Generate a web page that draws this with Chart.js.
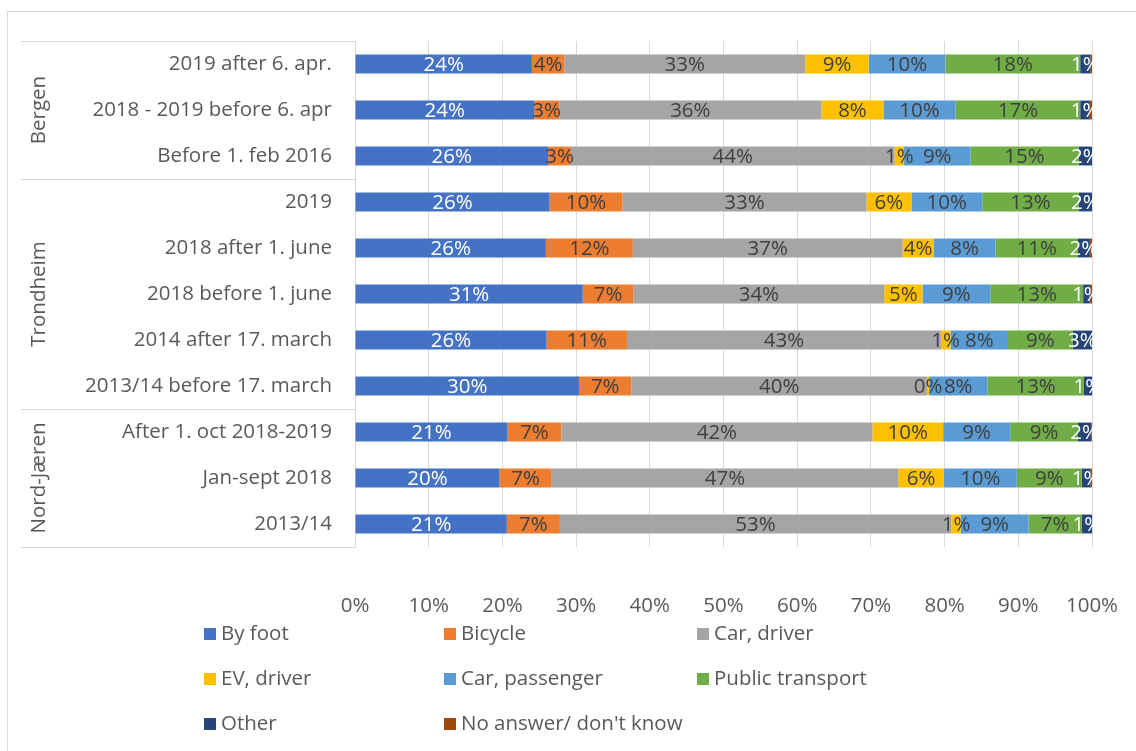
<!DOCTYPE html>
<html>
<head>
<meta charset="utf-8">
<script src="https://cdn.jsdelivr.net/npm/chart.js@4/dist/chart.umd.min.js"></script>
<style>
    body { margin: 0; background: #fff; font-family: "Open Sans", sans-serif; }
    #wrap { position: relative; width: 1136px; height: 751px; overflow: hidden; }
    #frame { position: absolute; left: 7px; top: 11px; width: 1140px; height: 760px; border: 1px solid #d9d9d9; }
    canvas { position: absolute; left: 0; top: 0; }
    .leg { position: absolute; font-size: 20.5px; color: #595959; height: 26px; line-height: 26px; white-space: nowrap; }
    .leg span { display: inline-block; width: 12px; height: 12px; margin-right: 5px; vertical-align: 0px; }
</style>
</head>
<body>
<div id="wrap">
    <div id="frame"></div>
    <canvas id="chart" width="1136" height="751"></canvas>
    <div id="legend"></div>
</div>
<script>
// categories, top to bottom
var categories = [
    '2019 after 6. apr.', '2018 - 2019 before 6. apr', 'Before 1. feb 2016',
    '2019', '2018 after 1. june', '2018 before 1. june', '2014 after 17. march', '2013/14 before 17. march',
    'After 1. oct 2018-2019', 'Jan-sept 2018', '2013/14'
];
var groups = ['Bergen', 'Trondheim', 'Nord-Jæren'];
var groupSizes = [3, 5, 3];

// shares in percent, same order as categories
var byFoot      = [24.0, 24.3, 26.2, 26.4, 25.9, 30.9, 26.0, 30.4, 20.7, 19.6, 20.6];
var bicycle     = [ 4.4,  3.4,  3.1,  9.9, 11.8,  6.9, 10.9,  7.1,  7.3,  7.1,  7.2];
var carDriver   = [32.7, 35.6, 43.9, 33.1, 36.6, 34.0, 42.6, 40.1, 42.2, 47.0, 53.1];
var evDriver    = [ 8.6,  8.4,  1.3,  6.1,  4.2,  5.2,  1.3,  0.3,  9.6,  6.2,  1.3];
var carPassenger= [10.4,  9.8,  9.0,  9.6,  8.4,  9.2,  7.8,  7.9,  9.1,  9.9,  9.2];
var publicTransport = [18.3, 16.9, 14.7, 13.1, 11.2, 12.6, 8.8, 13.1, 9.2, 8.8, 7.2];
var other       = [ 1.4,  1.3,  1.8,  1.8,  1.6,  0.9,  2.6,  1.1,  1.8,  1.2,  1.4];
var noAnswer    = [ 0.2,  0.3,  0.0,  0.0,  0.3,  0.3,  0.0,  0.0,  0.1,  0.2,  0.0];

var xTicks = ['0%', '10%', '20%', '30%', '40%', '50%', '60%', '70%', '80%', '90%', '100%'];

var series = [
    { label: 'By foot', data: byFoot, color: '#4472C4', text: '#ffffff' },
    { label: 'Bicycle', data: bicycle, color: '#ED7D31', text: '#404040' },
    { label: 'Car, driver', data: carDriver, color: '#A5A5A5', text: '#404040' },
    { label: 'EV, driver', data: evDriver, color: '#FFC000', text: '#404040' },
    { label: 'Car, passenger', data: carPassenger, color: '#5B9BD5', text: '#404040' },
    { label: 'Public transport', data: publicTransport, color: '#70AD47', text: '#404040' },
    { label: 'Other', data: other, color: '#264478', text: '#ffffff' },
    { label: "No answer/ don't know", data: noAnswer, color: '#9E480E', text: null }
];

var FAMILY = '"Open Sans", sans-serif';
var SIZE = 20.5;
var FONT = SIZE + 'px ' + FAMILY;

// labels inside the bar segments
var segmentLabels = {
    id: 'segmentLabels',
    afterDatasetsDraw: function(chart) {
        var ctx = chart.ctx;
        ctx.save();
        ctx.font = FONT;
        ctx.textAlign = 'center';
        ctx.textBaseline = 'middle';
        chart.data.datasets.forEach(function(ds, i) {
            if (!ds.textColor) return;
            chart.getDatasetMeta(i).data.forEach(function(bar, j) {
                var p = bar.getProps(['x', 'base', 'y'], true);
                ctx.fillStyle = ds.textColor;
                ctx.fillText(Math.round(ds.data[j]) + '%', (p.x + p.base) / 2, p.y + 1);
            });
        });
        ctx.restore();
    }
};

// group labels and separators of the two-level category axis
var groupAxis = {
    id: 'groupAxis',
    afterDraw: function(chart) {
        var ctx = chart.ctx;
        var y = chart.scales.y;
        var area = chart.chartArea;
        ctx.save();
        ctx.strokeStyle = '#d9d9d9';
        ctx.lineWidth = 1;
        var start = 0;
        var lines = [area.top];
        groups.forEach(function(g, k) {
            var end = start + groupSizes[k] - 1;
            var mid = (y.getPixelForValue(start) + y.getPixelForValue(end)) / 2;
            ctx.save();
            ctx.translate(39, mid);
            ctx.rotate(-Math.PI / 2);
            ctx.font = FONT;
            ctx.fillStyle = '#595959';
            ctx.textAlign = 'center';
            ctx.textBaseline = 'middle';
            ctx.fillText(g, 0, 0);
            ctx.restore();
            if (k < groups.length - 1) {
                lines.push((y.getPixelForValue(end) + y.getPixelForValue(end + 1)) / 2);
            }
            start = end + 1;
        });
        lines.push(area.bottom);
        lines.forEach(function(ly) {
            ly = Math.round(ly) + 0.5;
            ctx.beginPath();
            ctx.moveTo(21, ly);
            ctx.lineTo(area.left, ly);
            ctx.stroke();
        });
        ctx.restore();
    }
};

var ctx = document.getElementById('chart').getContext('2d');
var chart = new Chart(ctx, {
    type: 'bar',
    data: {
        labels: categories,
        datasets: series.map(function(s) {
            return {
                label: s.label,
                data: s.data,
                backgroundColor: s.color,
                textColor: s.text,
                borderWidth: 0,
                barPercentage: 0.41,
                categoryPercentage: 1
            };
        })
    },
    options: {
        indexAxis: 'y',
        responsive: false,
        animation: false,
        layout: { padding: { left: 0, top: 41, right: 44, bottom: 124 } },
        plugins: { legend: { display: false }, tooltip: { enabled: false } },
        scales: {
            x: {
                stacked: true,
                min: 0,
                max: 100,
                afterFit: function(scale) {
                    scale.height = 80;
                    scale.paddingLeft = 0;
                    scale.paddingRight = 0;
                },
                grid: { color: '#d9d9d9', drawTicks: false },
                border: { display: false },
                ticks: {
                    stepSize: 10,
                    padding: 47,
                    maxRotation: 0,
                    color: '#595959',
                    font: { family: FAMILY, size: SIZE },
                    callback: function(v) { return xTicks[Math.round(v / 10)]; }
                }
            },
            y: {
                stacked: true,
                afterFit: function(scale) { scale.width = 355; },
                grid: { display: false },
                border: { display: true, color: '#d9d9d9' },
                ticks: {
                    padding: 15,
                    color: '#595959',
                    font: { family: FAMILY, size: SIZE }
                }
            }
        }
    },
    plugins: [segmentLabels, groupAxis]
});

// legend in three columns
var legend = document.getElementById('legend');
var cols = [204, 444, 697];
var rows = [619, 664, 709];
series.forEach(function(s, i) {
    var d = document.createElement('div');
    d.className = 'leg';
    d.style.left = cols[i % 3] + 'px';
    d.style.top = rows[Math.floor(i / 3)] + 'px';
    d.innerHTML = '<span style="background:' + s.color + '"></span>' + s.label;
    legend.appendChild(d);
});
</script>
</body>
</html>
